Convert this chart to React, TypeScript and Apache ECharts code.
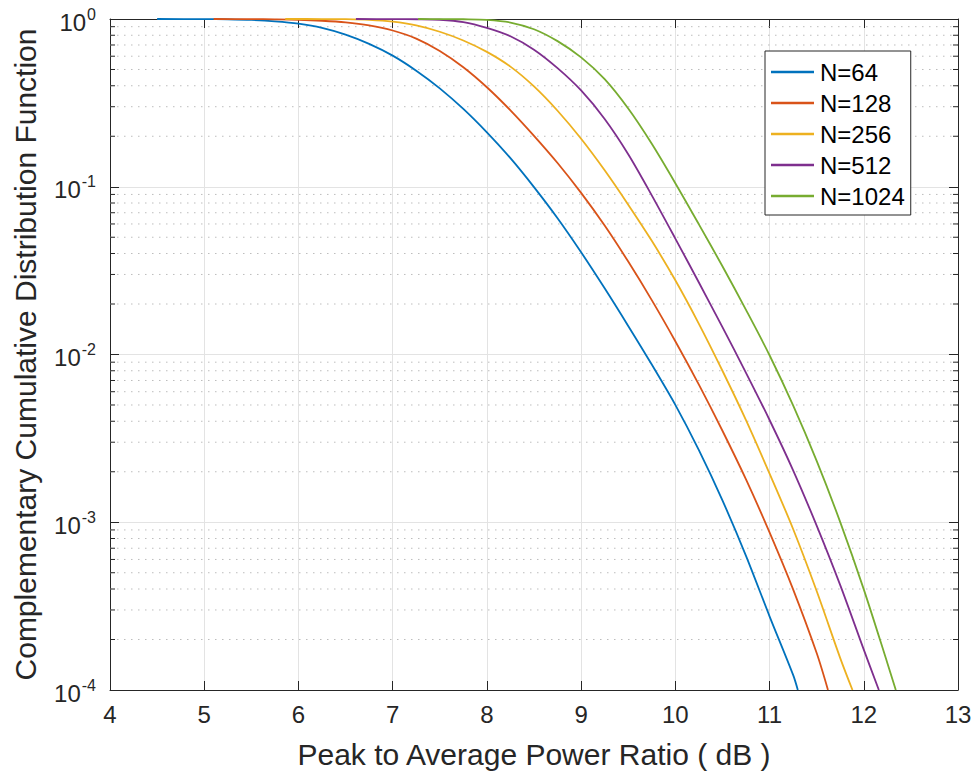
import React, { useEffect, useRef } from "react";
import * as echarts from "echarts";

// ---------- data ----------
const seriesNames = ["N=64", "N=128", "N=256", "N=512", "N=1024"];
const seriesColors = ["#0072BD", "#D95319", "#EDB120", "#7E2F8E", "#77AC30"];

const x64 = [4.5, 5.0, 5.25, 5.5, 5.75, 6.0, 6.25, 6.5, 6.75, 7.0, 7.25, 7.5, 7.75, 8.0, 8.25, 8.5, 8.75, 9.0, 9.25, 9.5, 9.75, 10.0, 10.25, 10.5, 10.75, 11.0, 11.25, 11.3];
const p64 = [1.0, 0.9989, 0.9959, 0.9874, 0.9683, 0.9376, 0.885, 0.807, 0.711, 0.605, 0.492, 0.386, 0.291, 0.211, 0.148, 0.0995, 0.0649, 0.0407, 0.0248, 0.0148, 0.00871, 0.00501, 0.00269, 0.00135, 0.000631, 0.000275, 0.000123, 0.0001];

const x128 = [5.1, 5.5, 5.75, 6.0, 6.25, 6.5, 6.75, 7.0, 7.25, 7.5, 7.75, 8.0, 8.25, 8.5, 8.75, 9.0, 9.25, 9.5, 9.75, 10.0, 10.25, 10.5, 10.75, 11.0, 11.25, 11.5, 11.62];
const p128 = [1.0, 0.9982, 0.9954, 0.9897, 0.9761, 0.9539, 0.9152, 0.854, 0.7646, 0.645, 0.516, 0.392, 0.2854, 0.2011, 0.1385, 0.0919, 0.0587, 0.0358, 0.0211, 0.012, 0.00661, 0.00351, 0.0018, 0.00087, 0.000398, 0.000166, 0.0001];

const x256 = [5.86, 6.25, 6.5, 6.75, 7.0, 7.25, 7.5, 7.75, 8.0, 8.25, 8.5, 8.75, 9.0, 9.25, 9.5, 9.75, 10.0, 10.25, 10.5, 10.75, 11.0, 11.25, 11.5, 11.75, 11.88];
const p256 = [1.0, 0.9993, 0.9977, 0.9886, 0.9638, 0.9162, 0.8395, 0.7447, 0.6368, 0.52, 0.3963, 0.2838, 0.1932, 0.1253, 0.0782, 0.0476, 0.0277, 0.01524, 0.008, 0.00406, 0.00195, 0.000912, 0.000389, 0.000155, 0.0001];

const x512 = [6.61, 7.0, 7.25, 7.5, 7.75, 8.0, 8.25, 8.5, 8.75, 9.0, 9.25, 9.5, 9.75, 10.0, 10.25, 10.5, 10.75, 11.0, 11.25, 11.5, 11.75, 12.0, 12.16];
const p512 = [1.0, 0.9989, 0.9966, 0.9897, 0.9583, 0.8851, 0.7889, 0.6561, 0.5093, 0.375, 0.2535, 0.1563, 0.0889, 0.0491, 0.02685, 0.01455, 0.00778, 0.00407, 0.00204, 0.000955, 0.000422, 0.000174, 0.0001];

const x1024 = [7.27, 7.5, 7.75, 8.0, 8.25, 8.5, 8.75, 9.0, 9.25, 9.5, 9.75, 10.0, 10.25, 10.5, 10.75, 11.0, 11.25, 11.5, 11.75, 12.0, 12.25, 12.34];
const p1024 = [1.0, 0.9989, 0.9966, 0.9886, 0.9528, 0.869, 0.7379, 0.5902, 0.4375, 0.2924, 0.1803, 0.105, 0.0597, 0.0336, 0.01845, 0.0099, 0.00497, 0.00232, 0.001002, 0.000398, 0.000145, 0.0001];

const seriesX = [x64, x128, x256, x512, x1024];
const seriesP = [p64, p128, p256, p512, p1024];

const X_MIN = 4;
const X_MAX = 13;
const X_INTERVAL = 1;
const Y_MIN = 1e-4;
const Y_MAX = 1;
const minorYValues = [
  2e-4, 3e-4, 4e-4, 5e-4, 6e-4, 7e-4, 8e-4, 9e-4,
  2e-3, 3e-3, 4e-3, 5e-3, 6e-3, 7e-3, 8e-3, 9e-3,
  2e-2, 3e-2, 4e-2, 5e-2, 6e-2, 7e-2, 8e-2, 9e-2,
  2e-1, 3e-1, 4e-1, 5e-1, 6e-1, 7e-1, 8e-1, 9e-1,
];

const xTitle = "Peak to Average Power Ratio ( dB )";
const yTitle = "Complementary Cumulative Distribution Function";

// ---------- styling ----------
const FONT = "'Liberation Sans', Arial, Helvetica, sans-serif";
const TEXT = "#262626";
const AXIS = "#262626";

export default function App() {
  const ref = useRef<HTMLDivElement>(null);

  useEffect(() => {
    if (!ref.current) return;
    const chart = echarts.init(ref.current, null, { renderer: "svg" });

    const lineSeries = seriesNames.map((name, i) => ({
      name,
      type: "line",
      xAxisIndex: 0,
      yAxisIndex: 0,
      data: seriesX[i].map((x, j) => [x, seriesP[i][j]]),
      symbol: "none",
      showSymbol: false,
      smooth: 0.3,
      lineStyle: { color: seriesColors[i], width: 1.8 },
      itemStyle: { color: seriesColors[i] },
      z: 5,
      silent: true,
    }));

    const minorSeries = {
      type: "custom",
      xAxisIndex: 0,
      yAxisIndex: 0,
      silent: true,
      z: 1,
      data: minorYValues.map((v) => [X_MIN, v]),
      renderItem: (params: any, api: any) => {
        const v = api.value(1);
        const a = api.coord([X_MIN, v]);
        const b = api.coord([X_MAX, v]);
        return {
          type: "group",
          children: [
            {
              type: "line",
              shape: { x1: a[0], y1: a[1], x2: b[0], y2: b[1] },
              style: { stroke: "#bdbdbd", lineWidth: 1, lineDash: [1.5, 5.5] },
            },
            {
              type: "line",
              shape: { x1: a[0], y1: a[1], x2: a[0] + 5, y2: a[1] },
              style: { stroke: AXIS, lineWidth: 1 },
            },
            {
              type: "line",
              shape: { x1: b[0] - 5, y1: b[1], x2: b[0], y2: b[1] },
              style: { stroke: AXIS, lineWidth: 1 },
            },
          ],
        };
      },
    };

    const yLabelFormatter = (v: number) => {
      const e = Math.round(Math.log10(v));
      return `{b|10}{s|${e}}`;
    };

    const option: any = {
      animation: false,
      backgroundColor: "#ffffff",
      textStyle: { fontFamily: FONT, color: TEXT },
      grid: { left: 110, right: 20, top: 19, bottom: 86, containLabel: false },
      legend: {
        data: seriesNames,
        orient: "vertical",
        left: 765,
        top: 51,
        padding: [9, 6, 7, 6],
        itemGap: 7,
        itemWidth: 43,
        itemHeight: 2.5,
        icon: "rect",
        backgroundColor: "#ffffff",
        borderColor: AXIS,
        borderWidth: 1,
        borderRadius: 0,
        selectedMode: false,
        textStyle: { fontFamily: FONT, fontSize: 24, color: "#000000", lineHeight: 24, padding: [0, 0, 0, 1] },
      },
      xAxis: [
        {
          type: "value",
          min: X_MIN,
          max: X_MAX,
          interval: X_INTERVAL,
          position: "bottom",
          name: xTitle,
          nameLocation: "middle",
          nameGap: 49,
          nameTextStyle: { fontFamily: FONT, fontSize: 30, color: TEXT },
          axisLine: { show: true, lineStyle: { color: AXIS, width: 1 } },
          axisTick: { show: true, inside: true, length: 9, lineStyle: { color: AXIS } },
          axisLabel: { fontFamily: FONT, fontSize: 24, color: TEXT, margin: 12 },
          splitLine: { show: true, lineStyle: { color: "#e3e3e3", width: 1 } },
        },
        {
          type: "value",
          min: X_MIN,
          max: X_MAX,
          interval: X_INTERVAL,
          position: "top",
          axisLine: { show: true, lineStyle: { color: AXIS, width: 1 } },
          axisTick: { show: true, inside: true, length: 9, lineStyle: { color: AXIS } },
          axisLabel: { show: false },
          splitLine: { show: false },
        },
      ],
      yAxis: [
        {
          type: "log",
          logBase: 10,
          min: Y_MIN,
          max: Y_MAX,
          position: "left",
          name: yTitle,
          nameLocation: "middle",
          nameGap: 70,
          nameRotate: 90,
          nameTextStyle: { fontFamily: FONT, fontSize: 30, color: TEXT },
          axisLine: { show: true, lineStyle: { color: AXIS, width: 1 } },
          axisTick: { show: true, inside: true, length: 9, lineStyle: { color: AXIS } },
          axisLabel: {
            margin: 14,
            formatter: yLabelFormatter,
            rich: {
              b: { fontFamily: FONT, fontSize: 24, color: TEXT, verticalAlign: "bottom", lineHeight: 30 },
              s: { fontFamily: FONT, fontSize: 16, color: TEXT, verticalAlign: "bottom", lineHeight: 30, padding: [0, 0, 12, 1] },
            },
          },
          splitLine: { show: true, lineStyle: { color: "#e3e3e3", width: 1 } },
          minorTick: { show: false },
        },
        {
          type: "log",
          logBase: 10,
          min: Y_MIN,
          max: Y_MAX,
          position: "right",
          axisLine: { show: true, lineStyle: { color: AXIS, width: 1 } },
          axisTick: { show: true, inside: true, length: 9, lineStyle: { color: AXIS } },
          axisLabel: { show: false },
          splitLine: { show: false },
        },
      ],
      series: [minorSeries, ...lineSeries],
    };

    chart.setOption(option);
    return () => chart.dispose();
  }, []);

  return (
    <div
      ref={ref}
      style={{ position: "fixed", left: 0, top: 0, width: 978, height: 776 }}
    />
  );
}
